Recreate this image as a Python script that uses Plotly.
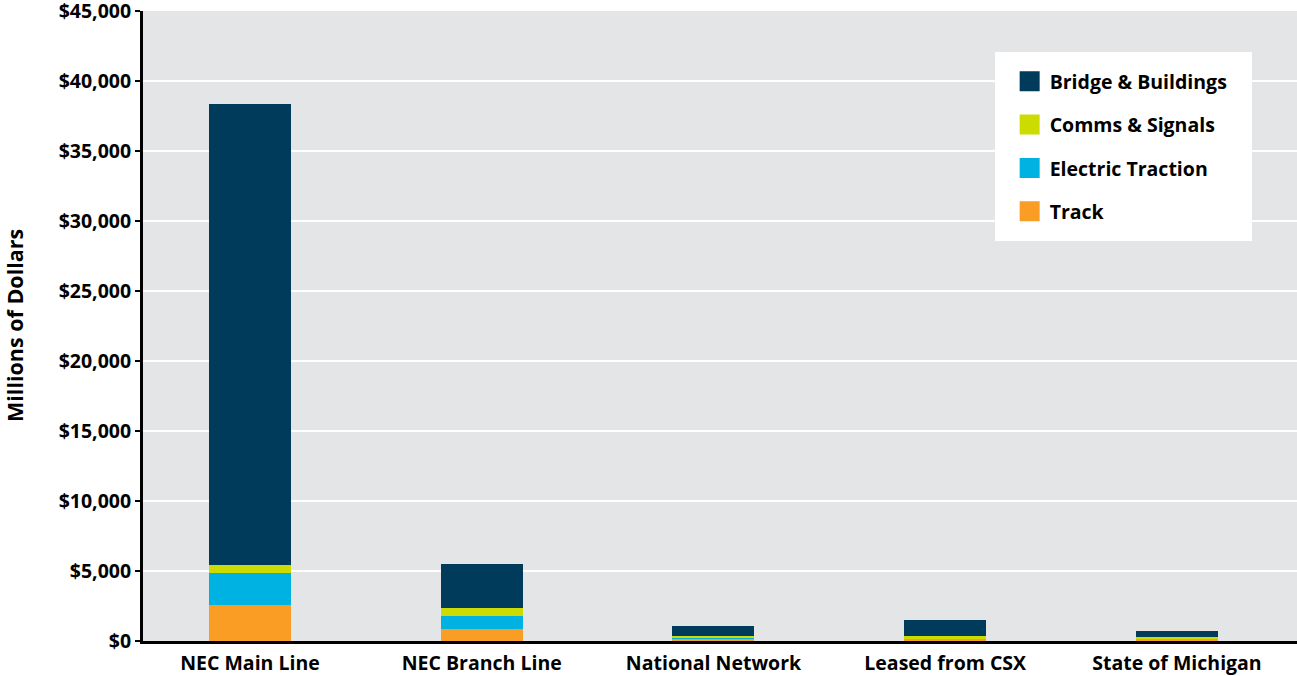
import plotly.graph_objects as go

categories = ["NEC Main Line", "NEC Branch Line", "National Network", "Leased from CSX", "State of Michigan"]
track = [2550, 880, 190, 180, 180]
electric_traction = [2330, 930, 30, 20, 20]
comms_signals = [550, 550, 110, 130, 100]
bridge_buildings = [32930, 3140, 720, 1200, 430]

series = [
    ("Track", track, "#f99d25"),
    ("Electric Traction", electric_traction, "#00b2e2"),
    ("Comms & Signals", comms_signals, "#cddc00"),
    ("Bridge & Buildings", bridge_buildings, "#003b5c"),
]

FONT = "Open Sans"
fig = go.Figure()
for name, vals, color in series:
    fig.add_trace(go.Bar(
        x=categories, y=vals, name=name, marker=dict(color=color, line=dict(width=0)),
        width=0.354, showlegend=False, hovertemplate="%{x}<br>" + name + ": $%{y:,}<extra></extra>",
    ))
# legend entries (square swatches), top to bottom
for name, vals, color in reversed(series):
    fig.add_trace(go.Scatter(
        x=[None], y=[None], mode="markers", name=name, legendgroup=name,
        marker=dict(symbol="square", size=16, color=color, line=dict(color=color, width=4)),
    ))

fig.update_layout(
    barmode="stack",
    width=1297, height=676,
    margin=dict(l=143, r=0, t=11, b=35, autoexpand=False),
    paper_bgcolor="white",
    plot_bgcolor="#e4e5e7",
    font=dict(family=FONT, size=19, color="#000000", weight="bold"),
    legend=dict(
        x=0.751, y=0.919, xanchor="left", yanchor="top",
        bgcolor="rgba(0,0,0,0)", borderwidth=0,
        traceorder="grouped", tracegroupgap=15,
        font=dict(family=FONT, size=19.5, color="#000000", weight="bold"),
    ),
    shapes=[dict(type="rect", xref="paper", yref="paper",
                 x0=(995 - 143) / 1154, x1=(1252 - 143) / 1154,
                 y0=(641 - 241) / 630, y1=(641 - 52) / 630,
                 fillcolor="white", line=dict(width=0), layer="above")],
    annotations=[dict(text="Millions of Dollars", xref="paper", yref="paper",
                      x=(14 - 143) / 1154, y=0.5, xanchor="center", yanchor="middle",
                      textangle=-90, showarrow=False,
                      font=dict(family=FONT, size=21.5, color="#000000", weight="bold"))],
)
fig.update_yaxes(
    range=[0, 45000], dtick=5000, tickprefix="$", tickformat=",",
    showgrid=True, gridcolor="white", gridwidth=2, zeroline=False,
    showline=True, linecolor="black", linewidth=3, automargin=False,
    ticks="outside", ticklen=5, tickwidth=2, tickcolor="black",
    ticklabeloverflow="allow",
    tickfont=dict(family=FONT, size=19.5, color="#000000", weight="bold"),
)
fig.update_xaxes(
    range=[-0.4617, 4.518], showgrid=False, automargin=False,
    showline=True, linecolor="black", linewidth=3, ticks="",
    ticklabelstandoff=3, ticklabeloverflow="allow",
    tickfont=dict(family=FONT, size=19.5, color="#000000", weight="bold"),
)

fig.write_html("out.html")
